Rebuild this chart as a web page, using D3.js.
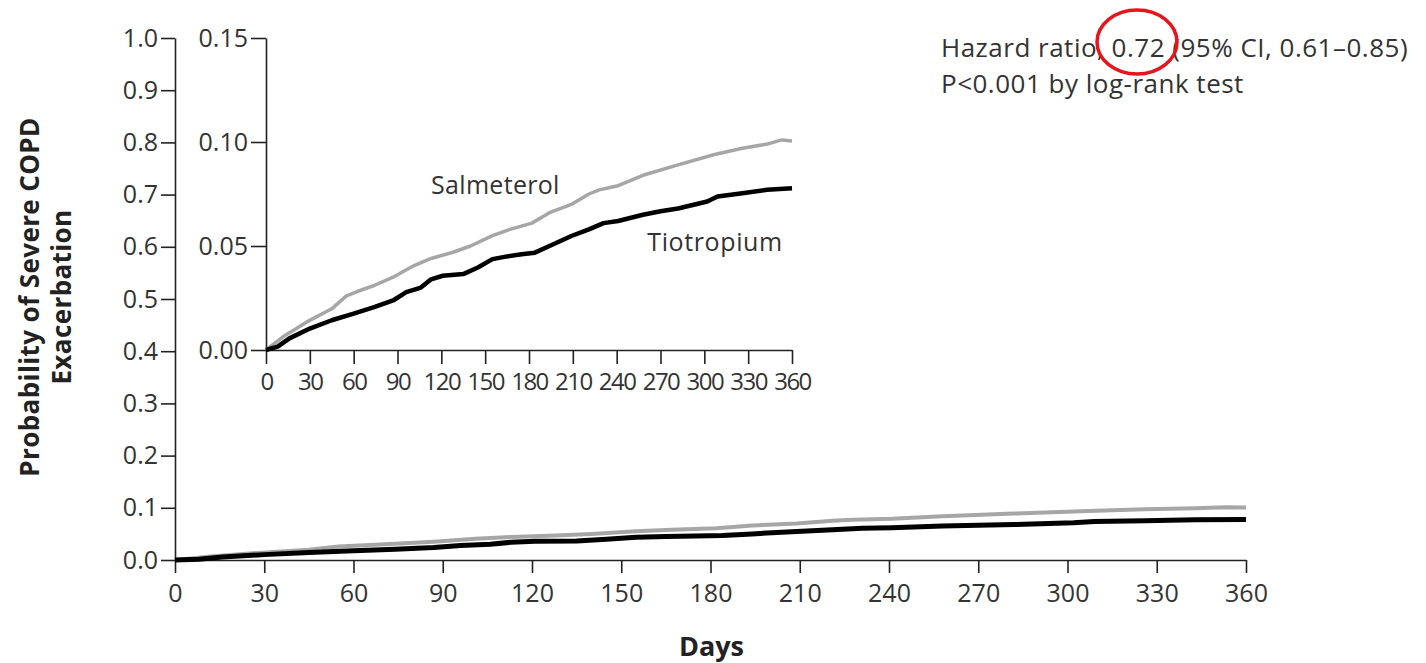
<!DOCTYPE html>
<html>
<head>
<meta charset="utf-8">
<script src="https://cdn.jsdelivr.net/npm/d3@7"></script>
<style>
  html, body { margin: 0; padding: 0; background: #fff; }
  svg { display: block; }
  text { font-family: "Open Sans", "Noto Sans", sans-serif; fill: #333; }
</style>
</head>
<body>
<svg id="chart" width="1426" height="663"></svg>
<script>
// Kaplan–Meier cumulative probability of a first severe COPD exacerbation
const salmeterolDays = [0, 13, 28, 45, 55, 62, 74, 87, 101, 113, 128, 140, 155, 167, 182, 194, 209, 221, 228, 241, 258, 282, 307, 326, 343, 353, 360];
const salmeterolProb = [0, 0.007, 0.0135, 0.0198, 0.026, 0.028, 0.031, 0.035, 0.0405, 0.044, 0.047, 0.050, 0.055, 0.058, 0.061, 0.066, 0.070, 0.075, 0.077, 0.079, 0.084, 0.089, 0.094, 0.097, 0.099, 0.101, 0.1005];

const tiotropiumDays = [0, 8, 16, 30, 45, 60, 74, 87, 96, 106, 113, 121, 135, 145, 155, 165, 175, 184, 194, 209, 221, 231, 241, 258, 270, 282, 302, 309, 326, 343, 360];
const tiotropiumProb = [0, 0.0016, 0.0056, 0.0103, 0.0143, 0.0175, 0.0206, 0.0238, 0.0278, 0.030, 0.034, 0.0357, 0.0365, 0.0397, 0.0437, 0.045, 0.046, 0.0468, 0.050, 0.0548, 0.058, 0.061, 0.062, 0.065, 0.0667, 0.068, 0.0714, 0.0738, 0.0754, 0.077, 0.0778];

const dayTicks = [0, 30, 60, 90, 120, 150, 180, 210, 240, 270, 300, 330, 360];
const mainProbTicks = [0, 0.1, 0.2, 0.3, 0.4, 0.5, 0.6, 0.7, 0.8, 0.9, 1.0];
const insetProbTicks = [0, 0.05, 0.10, 0.15];

const seriesNames = ["Salmeterol", "Tiotropium"];
const seriesColors = ["#a6a6a6", "#000000"];

const series = [
  { name: seriesNames[0], color: seriesColors[0], pts: salmeterolDays.map((d, i) => [d, salmeterolProb[i]]) },
  { name: seriesNames[1], color: seriesColors[1], pts: tiotropiumDays.map((d, i) => [d, tiotropiumProb[i]]) }
];

const svg = d3.select("#chart");
const axisColor = "#222";

function styleAxis(g, fontSize, letterSpacing) {
  g.select(".domain").attr("stroke", axisColor).attr("stroke-width", 1.6);
  g.selectAll(".tick line").attr("stroke", axisColor).attr("stroke-width", 1.6);
  g.selectAll(".tick text")
    .attr("font-size", fontSize)
    .attr("letter-spacing", letterSpacing)
    .style("fill", "#333");
}

// ---- Main panel ----
const x = d3.scaleLinear().domain([0, 360]).range([175, 1246]);
const y = d3.scaleLinear().domain([0, 1]).range([560, 38]);

const xAxis = svg.append("g")
  .attr("transform", `translate(0,${y(0)})`)
  .call(d3.axisBottom(x).tickValues(dayTicks).tickSize(13).tickPadding(11).tickSizeOuter(0));
styleAxis(xAxis, 25, 0);

const yAxis = svg.append("g")
  .attr("transform", `translate(${x(0)},0)`)
  .call(d3.axisLeft(y).tickValues(mainProbTicks).tickFormat(d3.format(".1f")).tickSize(14).tickPadding(3).tickSizeOuter(0));
styleAxis(yAxis, 25, 0);

const mainLine = d3.line().x(d => x(d[0])).y(d => y(d[1]));
svg.append("g").selectAll("path")
  .data(series)
  .join("path")
  .attr("d", d => mainLine(d.pts))
  .attr("fill", "none")
  .attr("stroke", d => d.color)
  .attr("stroke-width", d => d.name === "Tiotropium" ? 5 : 4)
  .attr("stroke-linejoin", "round");

// Axis titles
svg.append("text")
  .attr("x", (x(0) + x(360)) / 2 + 1)
  .attr("y", 656)
  .attr("text-anchor", "middle")
  .attr("font-size", 27)
  .attr("font-weight", "bold")
  .style("fill", "#222")
  .text("Days");

const yTitle = svg.append("text")
  .attr("transform", "translate(39,297) rotate(-90)")
  .attr("text-anchor", "middle")
  .attr("font-size", 26)
  .attr("font-weight", "bold")
  .attr("letter-spacing", 0.4)
  .style("fill", "#222");
yTitle.append("tspan").attr("x", 0).attr("dy", 0).text("Probability of Severe COPD");
yTitle.append("tspan").attr("x", 0).attr("dy", 32).text("Exacerbation");

// ---- Inset panel (zoomed y range) ----
const xi = d3.scaleLinear().domain([0, 360]).range([266, 792]);
const yi = d3.scaleLinear().domain([0, 0.15]).range([350, 38]);

const xiAxis = svg.append("g")
  .attr("transform", `translate(0,${yi(0)})`)
  .call(d3.axisBottom(xi).tickValues(dayTicks).tickSize(14).tickPadding(9).tickSizeOuter(0));
styleAxis(xiAxis, 24, -1.5);

const yiAxis = svg.append("g")
  .attr("transform", `translate(${xi(0)},0)`)
  .call(d3.axisLeft(yi).tickValues(insetProbTicks).tickFormat(d3.format(".2f")).tickSize(15).tickPadding(3).tickSizeOuter(0));
styleAxis(yiAxis, 25, 0);

const insetLine = d3.line().x(d => xi(d[0])).y(d => yi(d[1]));
svg.append("g").selectAll("path")
  .data(series)
  .join("path")
  .attr("d", d => insetLine(d.pts))
  .attr("fill", "none")
  .attr("stroke", d => d.color)
  .attr("stroke-width", d => d.name === "Tiotropium" ? 4.5 : 3.5)
  .attr("stroke-linejoin", "round");

// Series labels in the inset
svg.append("text")
  .attr("x", xi(113)).attr("y", yi(0.075))
  .attr("font-size", 25)
  .attr("letter-spacing", 0.3)
  .text(seriesNames[0]);
svg.append("text")
  .attr("x", xi(261)).attr("y", yi(0.0475))
  .attr("font-size", 25)
  .attr("letter-spacing", 0.6)
  .text(seriesNames[1]);

// ---- Test statistics ----
const stats = svg.append("text").attr("font-size", 26).attr("letter-spacing", 0.5).style("fill", "#333");
stats.append("tspan").attr("x", 941).attr("y", 57).text("Hazard ratio, 0.72 (95% CI, 0.61–0.85)");
stats.append("tspan").attr("x", 941).attr("y", 93).text("P<0.001 by log-rank test");

// Highlight ring round the hazard ratio
svg.append("ellipse")
  .attr("cx", 1137).attr("cy", 42)
  .attr("rx", 40).attr("ry", 32)
  .attr("fill", "none")
  .attr("stroke", "#e8141b")
  .attr("stroke-width", 3.5);
</script>
</body>
</html>
